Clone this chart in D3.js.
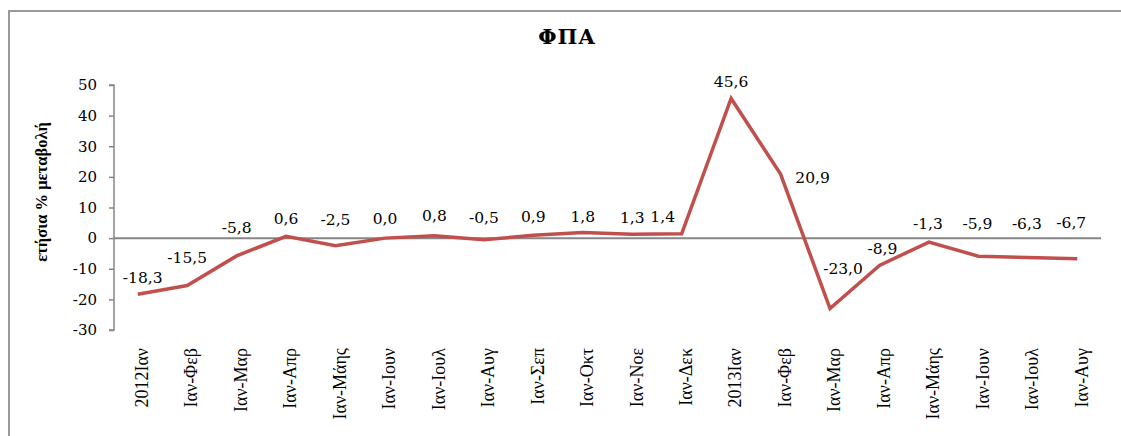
<!DOCTYPE html>
<html>
<head>
<meta charset="utf-8">
<script src="https://cdn.jsdelivr.net/npm/d3@7"></script>
<style>
body { margin: 0; background: #fff; }
.tick text { font-family: "DejaVu Serif", serif; font-size: 15px; fill: #000; }
.xlab text { font-family: "Liberation Serif", serif; font-size: 18px; fill: #000; }
.vlabel { font-family: "DejaVu Serif", serif; font-size: 15.5px; fill: #000; }
</style>
</head>
<body>
<div id="chart"></div>
<script>
var months = ["2012Ιαν","Ιαν-Φεβ","Ιαν-Μαρ","Ιαν-Απρ","Ιαν-Μάης","Ιαν-Ιουν","Ιαν-Ιουλ","Ιαν-Αυγ","Ιαν-Σεπ","Ιαν-Οκτ","Ιαν-Νοε","Ιαν-Δεκ",
              "2013Ιαν","Ιαν-Φεβ","Ιαν-Μαρ","Ιαν-Απρ","Ιαν-Μάης","Ιαν-Ιουν","Ιαν-Ιουλ","Ιαν-Αυγ"];
var vat = [-18.3,-15.5,-5.8,0.6,-2.5,0.0,0.8,-0.5,0.9,1.8,1.3,1.4,45.6,20.9,-23.0,-8.9,-1.3,-5.9,-6.3,-6.7];
var yTicks = [-30,-20,-10,0,10,20,30,40,50];

var draw = function(){
	var svg = d3.select("#chart").append("svg").attr("width", 1121).attr("height", 436);

	// frame
	svg.append("rect").attr("x", 9).attr("y", 11).attr("width", 1130).attr("height", 450)
		.attr("fill", "none").attr("stroke", "#9a9a9a").attr("stroke-width", 2);

	var keys = months.map(function(d, i){ return i; });
	var x = d3.scaleBand().domain(keys).range([113, 1102]);
	var y = d3.scaleLinear().domain([-30, 50]).range([330, 85]);
	var cx = function(i){ return x(i) + x.bandwidth() / 2; };

	var yAxis = d3.axisLeft(y).tickValues(yTicks).tickSize(5).tickPadding(12)
		.tickFormat(function(d){ return d; });
	var gy = svg.append("g").attr("transform", "translate(114,0)").call(yAxis);
	gy.select(".domain").attr("stroke", "#868686").attr("stroke-width", 1.5).attr("d", "M-5," + y(50) + "H0V" + y(-30) + "H-5");
	gy.selectAll(".tick line").attr("stroke", "#868686").attr("stroke-width", 1.5);

	// zero line
	svg.append("line").attr("x1", 114).attr("x2", 1101).attr("y1", y(0)).attr("y2", y(0))
		.attr("stroke", "#868686").attr("stroke-width", 2);

	// category labels
	svg.append("g").attr("class", "xlab").selectAll("text").data(months).enter()
		.append("text")
		.attr("text-anchor", "end")
		.attr("transform", function(d, i){ return "translate(" + (cx(i) + 4) + ",348) rotate(-90)"; })
		.attr("dy", "0.35em")
		.text(function(d){ return d; });

	var line = d3.line()
		.x(function(d, i){ return cx(i); })
		.y(function(d){ return y(d); });

	svg.append("path").datum(vat)
		.attr("fill", "none")
		.attr("stroke", "#C0504D")
		.attr("stroke-width", 3.5)
		.attr("stroke-linejoin", "miter")
		.attr("d", line);

	// label placement relative to the point (centre of text)
	var ldx = [5,0,0,0,0,0,0,0,0,0,0,-19,0,32,13,3,-1,-1,-1,-6];
	var ldy = [-17,-28,-28,-18,-26,-20,-20,-22,-19,-16,-17,-17,-17,3,-40,-17,-19,-33,-34,-36];
	svg.append("g").selectAll("text").data(vat).enter()
		.append("text").attr("class", "vlabel")
		.attr("text-anchor", "middle")
		.attr("dy", "0.35em")
		.attr("x", function(d, i){ return cx(i) + ldx[i]; })
		.attr("y", function(d, i){ return y(d) + ldy[i]; })
		.text(function(d){ return d.toFixed(1).replace(".", ","); });

	svg.append("text").attr("x", 567).attr("y", 44).attr("text-anchor", "middle")
		.attr("font-family", "DejaVu Serif, serif").attr("font-weight", "bold").attr("font-size", 21)
		.attr("letter-spacing", 1)
		.text("ΦΠΑ");

	svg.append("text").attr("text-anchor", "middle")
		.attr("transform", "translate(47,192) rotate(-90)")
		.attr("font-family", "Liberation Serif, serif").attr("font-weight", "bold").attr("font-size", 16.5)
		.text("ετήσια % μεταβολή");
};

window.onload = function(){
	draw();
};
</script>
</body>
</html>
